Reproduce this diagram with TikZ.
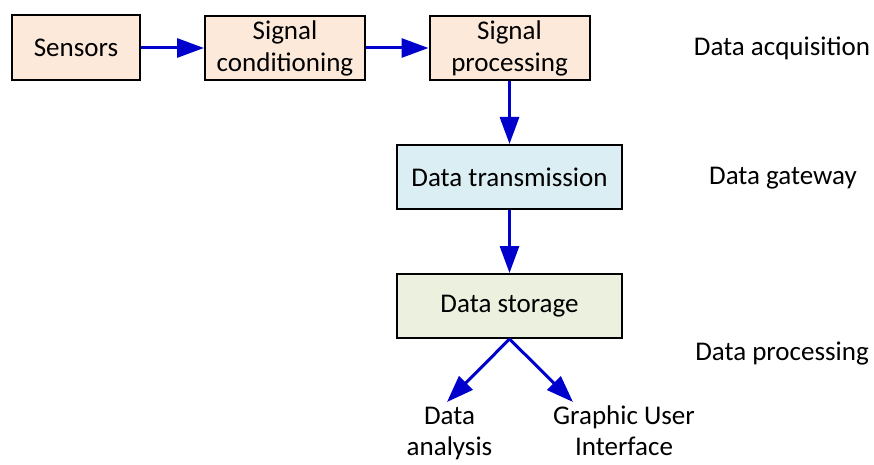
\documentclass[tikz,border=0pt]{standalone}
\usepackage{fontspec}
\setmainfont{Carlito}
\usetikzlibrary{arrows.meta}
\definecolor{peach}{HTML}{FCE9DA}
\definecolor{aqua}{HTML}{DAEEF3}
\definecolor{olive}{HTML}{EBF1DE}
\definecolor{arrowblue}{HTML}{0000CC}
\tikzset{
  box/.style={draw=black, line width=2pt, inner sep=0pt, align=center,
    font=\fontsize{27}{32}\selectfont},
  lbl/.style={inner sep=0pt, align=center, font=\fontsize{27}{31}\selectfont},
  flow/.style={draw=arrowblue, line width=3pt,
    -{Triangle[length=27pt,width=19pt]}},
}
\begin{document}
\begin{tikzpicture}[x=1pt,y=-1pt]
\useasboundingbox (0,0) rectangle (874,465);
\node[box, fill=peach, minimum width=128pt, minimum height=65pt] (sens) at (76,48) {Sensors};
\node[box, fill=peach, minimum width=160pt, minimum height=64pt] (cond) at (285,48) {Signal\\conditioning};
\node[box, fill=peach, minimum width=160pt, minimum height=64pt] (proc) at (509.5,48) {Signal\\processing};
\node[box, fill=aqua, minimum width=225pt, minimum height=64pt] (trans) at (509.5,177) {Data transmission};
\node[box, fill=olive, minimum width=225pt, minimum height=64pt] (store) at (509.5,306) {Data storage};
\coordinate (ta) at (447,402);
\coordinate (tg) at (573,402);
\node[lbl] (ana) at (449.5,434) {Data\\analysis};
\node[lbl] (gui) at (624,431) {Graphic User\\Interface};
\node[lbl] (acq) at (782,48) {Data acquisition};
\node[lbl] (gw) at (783,178) {Data gateway};
\node[lbl] (dp) at (782,354) {Data processing};
\draw[flow] (sens.east) -- (cond.west);
\draw[flow] (cond.east) -- (proc.west);
\draw[flow] (proc.south) -- (trans.north);
\draw[flow] (trans.south) -- (store.north);
\draw[flow] (store.south) -- (ta);
\draw[flow] (store.south) -- (tg);
\end{tikzpicture}
\end{document}
